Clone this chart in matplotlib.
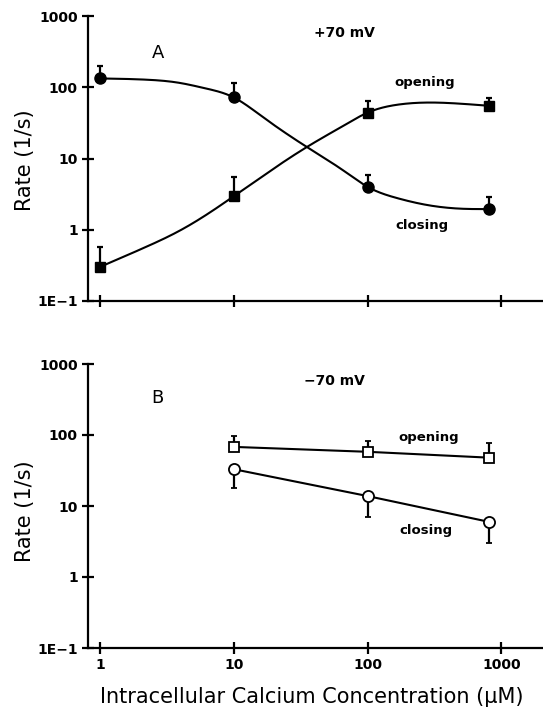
import matplotlib
matplotlib.use("Agg")
import matplotlib.pyplot as plt
import numpy as np

plt.rcParams['font.family'] = ['DejaVu Sans']

# ---- data ----
x_top = [1, 10, 100, 800]
close_top = [134, 72, 4.0, 1.93]
close_top_err_hi = [198, 113, 5.8, 2.9]
open_top = [0.30, 3.0, 44, 55]
open_top_err_hi = [0.58, 5.5, 64, 70]

# fitted curves
fit_x = [1, 2.17, 3.85, 6.08, 10, 16.1, 35.2, 67.3, 100, 164, 288, 513, 800]
close_fit = [133, 128, 116, 97, 72, 39.5, 14.5, 6.6, 4.0, 2.8, 2.2, 1.97, 1.95]
open_fit = [0.30, 0.565, 0.946, 1.57, 2.95, 5.5, 14.5, 29.5, 44, 56.6, 61, 58.5, 55]

x_bot = [10, 100, 800]
open_bot = [68, 58, 48]
open_bot_err_hi = [97, 82, 76]
close_bot = [33, 13.8, 6.0]
close_bot_err_lo = [18, 6.9, 3.0]

yticks = [0.1, 1, 10, 100, 1000]
ytick_labels = ["1E\u22121", "1", "10", "100", "1000"]
xticks = [1, 10, 100, 1000]
xtick_labels = ["1", "10", "100", "1000"]


def smooth_loglog(xs, ys, n=400):
    """Natural cubic spline rendering of a curve through the read points (log-log)."""
    x = np.log10(np.asarray(xs, float))
    y = np.log10(np.asarray(ys, float))
    m = len(x)
    h = np.diff(x)
    A = np.zeros((m, m))
    b = np.zeros(m)
    A[0, 0] = A[-1, -1] = 1.0
    for i in range(1, m - 1):
        A[i, i - 1] = h[i - 1]
        A[i, i] = 2 * (h[i - 1] + h[i])
        A[i, i + 1] = h[i]
        b[i] = 6 * ((y[i + 1] - y[i]) / h[i] - (y[i] - y[i - 1]) / h[i - 1])
    M = np.linalg.solve(A, b)
    xx = np.linspace(x[0], x[-1], n)
    k = np.clip(np.searchsorted(x, xx) - 1, 0, m - 2)
    x0, x1 = x[k], x[k + 1]
    hk = h[k]
    yy = (M[k] * (x1 - xx) ** 3 / (6 * hk) + M[k + 1] * (xx - x0) ** 3 / (6 * hk)
          + (y[k] / hk - M[k] * hk / 6) * (x1 - xx)
          + (y[k + 1] / hk - M[k + 1] * hk / 6) * (xx - x0))
    return 10 ** xx, 10 ** yy


W, H = 543, 711
fig = plt.figure(figsize=(W / 100, H / 100), dpi=100)

def px_axes(l, r, t, b):
    return fig.add_axes([l / W, 1 - b / H, (r - l) / W, (b - t) / H])

ax1 = px_axes(87.5, 543, 16, 301)
ax2 = px_axes(87.5, 543, 364, 648)

for ax in (ax1, ax2):
    ax.set_xscale('log')
    ax.set_yscale('log')
    ax.set_xlim(10 ** (-0.092), 10 ** (3.31))
    ax.set_ylim(0.1, 1000)
    for s in ('top', 'right'):
        ax.spines[s].set_visible(False)
    for s in ('left', 'bottom'):
        ax.spines[s].set_linewidth(1.6)
    ax.set_yticks(yticks)
    ax.set_yticklabels(ytick_labels)
    ax.set_xticks(xticks)
    ax.minorticks_off()
    ax.tick_params(axis='both', direction='inout', length=8, width=1.6,
                   labelsize=10, pad=3)
    for lab in ax.get_yticklabels() + ax.get_xticklabels():
        lab.set_fontweight('bold')
    ax.patch.set_alpha(0)

ax1.set_xticklabels([])
ax2.set_xticklabels(xtick_labels, fontweight='bold')

lw = 1.5
# ---- top panel ----
cx, cy = smooth_loglog(fit_x, close_fit)
ox, oy = smooth_loglog(fit_x, open_fit)
ax1.plot(cx, cy, color='black', lw=lw, zorder=2)
ax1.plot(ox, oy, color='black', lw=lw, zorder=2)
ax1.errorbar(x_top, close_top,
             yerr=[np.zeros(len(close_top)), np.array(close_top_err_hi) - np.array(close_top)],
             fmt='o', color='black', ms=8, elinewidth=1.6, capsize=2.5, capthick=1.6, zorder=3)
ax1.errorbar(x_top, open_top,
             yerr=[np.zeros(len(open_top)), np.array(open_top_err_hi) - np.array(open_top)],
             fmt='s', color='black', ms=7.5, elinewidth=1.6, capsize=2.5, capthick=1.6, zorder=3)

ax1.text(2.7, 300, "A", fontsize=13, ha='center', va='center')
ax1.text(67, 580, "+70 mV", fontsize=10, fontweight='bold', ha='center', va='center')
ax1.text(266, 115, "opening", fontsize=9.5, fontweight='bold', ha='center', va='center')
ax1.text(253, 1.14, "closing", fontsize=9.5, fontweight='bold', ha='center', va='center')

# ---- bottom panel ----
ax2.errorbar(x_bot, open_bot,
             yerr=[np.zeros(len(open_bot)), np.array(open_bot_err_hi) - np.array(open_bot)],
             fmt='s-', color='black', mfc='white', mec='black', ms=7.5, mew=1.3, lw=lw,
             elinewidth=1.6, capsize=2.5, capthick=1.6, zorder=3)
ax2.errorbar(x_bot, close_bot,
             yerr=[np.array(close_bot) - np.array(close_bot_err_lo), np.zeros(len(close_bot))],
             fmt='o-', color='black', mfc='white', mec='black', ms=8, mew=1.3, lw=lw,
             elinewidth=1.6, capsize=2.5, capthick=1.6, zorder=3)

ax2.text(2.7, 329, "B", fontsize=13, ha='center', va='center')
ax2.text(56.7, 570, "\u221270 mV", fontsize=10, fontweight='bold', ha='center', va='center')
ax2.text(285, 91, "opening", fontsize=9.5, fontweight='bold', ha='center', va='center')
ax2.text(271, 4.5, "closing", fontsize=9.5, fontweight='bold', ha='center', va='center')

# ---- axis labels ----
fig.text(25 / W, 1 - 160 / H, "Rate (1/s)", rotation=90, fontsize=15,
         ha='center', va='center')
fig.text(25 / W, 1 - 511 / H, "Rate (1/s)", rotation=90, fontsize=15,
         ha='center', va='center')
fig.text(312 / W, 1 - 697 / H, "Intracellular Calcium Concentration (\u03bcM)",
         fontsize=15, ha='center', va='center')

fig.savefig("out.png", dpi=100)
